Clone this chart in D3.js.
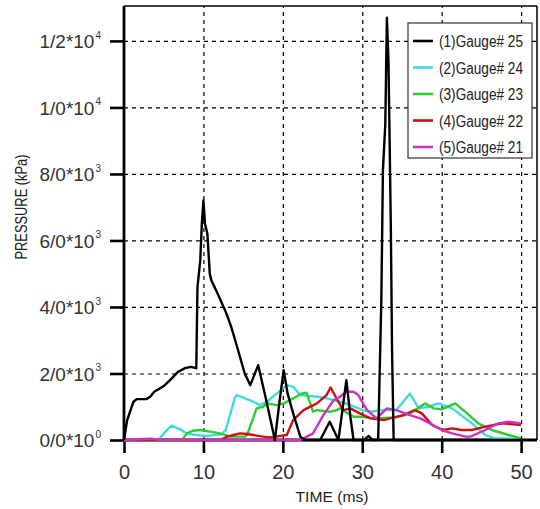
<!DOCTYPE html>
<html><head><meta charset="utf-8">
<script src="https://cdn.jsdelivr.net/npm/d3@7"></script>
<style>
body{margin:0;background:#fff;}
svg{display:block;}
</style></head>
<body><svg id="c" width="540" height="509"></svg>
<script>
const seriesNames = ["(1)Gauge# 25","(2)Gauge# 24","(3)Gauge# 23","(4)Gauge# 22","(5)Gauge# 21"];
const seriesColors = ["#000000","#3ddcdc","#2ecc2e","#cc1010","#cc33c4"];

const g25_t = [0,0.4,0.9,1.2,1.6,2.8,3.3,3.8,4.5,5.0,5.8,6.8,7.7,8.4,9.1,9.25,9.6,9.8,10.0,10.2,10.5,10.8,11.0,11.8,12.9,13.5,14.0,15.2,15.9,16.9,17.9,19.0,19.5,20.1,20.6,21.3,22.2,22.8,24.7,25.9,27.0,27.5,28.0,28.5,28.9,30.2,30.8,31.3,32.0,32.4,32.6,32.9,33.1,33.3,33.45,33.6,33.75,33.95,50];
const g25_v = [0,600,950,1150,1230,1230,1300,1450,1550,1620,1800,2050,2160,2200,2160,4600,5400,6500,7200,6500,6200,5000,4800,4400,3800,3400,3000,2000,1650,2250,1200,0,1000,2100,1400,800,100,0,0,550,0,900,1800,700,0,0,120,0,0,4200,8100,9500,12700,11400,8900,6300,2700,0,0];

const g24_t = [0,4.3,5.2,6.0,7.0,7.9,9.0,10.5,12.3,12.8,14.0,14.2,16.3,17.1,18.0,19.0,20.5,21.3,22.2,24.3,25.5,27.2,28.5,30.1,31.0,32.7,34.3,36.0,37.1,38.3,39.6,41.3,43.8,45.5,46.7,48.4,50];
const g24_v = [0,0,250,430,330,200,150,120,180,300,1300,1350,1150,1050,1150,1350,1650,1600,1350,1300,1250,1150,1050,900,850,900,900,1400,950,1000,1100,950,500,150,50,50,0];

const g23_t = [0,7.3,7.9,8.7,9.6,10.8,12.1,13.4,15.2,15.5,16.7,17.5,18.0,19.2,20.1,21.3,22.4,23.0,23.8,24.3,25.9,26.8,27.2,28.5,28.9,29.7,31.8,34.3,36.0,37.9,39.0,40.0,41.7,43.2,44.6,46.3,48.4,50];
const g23_v = [0,0,200,280,300,250,200,100,100,150,950,1000,1100,1050,1100,1250,1400,1420,850,900,850,900,950,750,700,700,650,680,800,1100,950,920,1100,800,500,300,150,50];

const g22_t = [0,12.1,13.0,13.8,14.6,15.5,16.3,17.5,18.4,20.5,21.3,22.6,24.3,25.5,26.0,27.0,27.6,28.5,29.7,31.0,32.7,33.5,35.2,36.6,37.5,38.8,40.2,41.3,42.5,43.8,45.5,47.6,50];
const g22_v = [0,0,100,150,200,180,150,100,80,150,600,900,1100,1350,1580,1150,900,950,800,650,600,650,750,900,800,450,300,350,300,300,400,500,450];

const g21_t = [0,2.5,3.5,4.5,22.2,23.8,25.1,26.4,27.2,28.0,28.9,29.5,30.6,31.8,33.1,34.3,36.0,37.3,38.5,40.0,41.3,43.0,43.6,45.5,47.1,48.4,50];
const g21_v = [0,30,40,0,0,200,750,1200,1300,1450,1450,1350,900,650,950,900,750,650,500,300,200,100,100,300,500,550,500];

const xTicks = [0,10,20,30,40,50];
const yTicks = [0,2000,4000,6000,8000,10000,12000];
const yTickMant = ["0/0*10","2/0*10","4/0*10","6/0*10","8/0*10","1/0*10","1/2*10"];
const yTickExp = ["0","3","3","3","3","4","4"];
const xLabel = "TIME (ms)";
const yLabel = "PRESSURE (kPa)";

const svg = d3.select("#c");
const L=124, R=537, T=6, B=440;
const x = d3.scaleLinear().domain([0,52]).range([L,R]);
const y = d3.scaleLinear().domain([0,13050]).range([B,T]);
const font = "'Liberation Sans', Arial, sans-serif";

// grid
svg.append("g").attr("transform",`translate(0,${B})`)
  .call(d3.axisBottom(x).tickValues(xTicks.slice(1)).tickSize(-(B-T)).tickFormat(""))
  .call(g=>g.select(".domain").remove())
  .selectAll("line").attr("stroke","#000").attr("stroke-width",1.2).attr("stroke-dasharray","4,4");
svg.append("g").attr("transform",`translate(${L},0)`)
  .call(d3.axisLeft(y).tickValues(yTicks.slice(1)).tickSize(-(R-L)).tickFormat(""))
  .call(g=>g.select(".domain").remove())
  .selectAll("line").attr("stroke","#000").attr("stroke-width",1.2).attr("stroke-dasharray","4,4");

// frame
svg.append("line").attr("x1",L).attr("x2",R).attr("y1",T).attr("y2",T).attr("stroke","#000").attr("stroke-width",1.5);
svg.append("line").attr("x1",R).attr("x2",R).attr("y1",T).attr("y2",B).attr("stroke","#000").attr("stroke-width",1.5);

// axes
const ax = svg.append("g").attr("transform",`translate(0,${B})`)
  .call(d3.axisBottom(x).tickValues(xTicks).tickSize(13).tickSizeOuter(0).tickPadding(10));
ax.select(".domain").attr("stroke","#000").attr("stroke-width",2.8).attr("d",`M${L},0H${R}`);
ax.selectAll(".tick line").attr("stroke","#000").attr("stroke-width",2.6);
ax.selectAll("text").attr("font-family",font).attr("font-size",20).attr("fill","#333").attr("dy",null).attr("y",null)
  .attr("transform","translate(0,39)");

const ay = svg.append("g").attr("transform",`translate(${L},0)`)
  .call(d3.axisLeft(y).tickValues(yTicks).tickSize(14).tickSizeOuter(0).tickPadding(0).tickFormat((d,i)=>yTickMant[i]));
ay.select(".domain").attr("stroke","#000").attr("stroke-width",2.8).attr("d",`M0,${B+1}V${T}`);
ay.selectAll(".tick line").attr("stroke","#000").attr("stroke-width",2.6);
ay.selectAll("text").attr("font-family",font).attr("font-size",19).attr("fill","#333")
  .attr("x",-23).attr("dy","0.35em")
  .each(function(d,i){
    d3.select(this).append("tspan").attr("font-size",10).attr("dy","-0.95em").attr("dx",1).text(yTickExp[i]);
  });

// series (drawn over axes)
const series = [
  {t:g24_t,v:g24_v,c:seriesColors[1]},
  {t:g23_t,v:g23_v,c:seriesColors[2]},
  {t:g22_t,v:g22_v,c:seriesColors[3]},
  {t:g21_t,v:g21_v,c:seriesColors[4]},
  {t:g25_t,v:g25_v,c:seriesColors[0]}
];
const line = d3.line().x(d=>x(d[0])).y(d=>y(d[1]));
series.forEach(s=>{
  svg.append("path").datum(s.t.map((t,i)=>[t,s.v[i]]))
    .attr("d",line).attr("fill","none").attr("stroke",s.c)
    .attr("stroke-width",2.4).attr("stroke-linejoin","round");
});

// labels
svg.append("text").attr("x",332).attr("y",502).attr("text-anchor","middle")
  .attr("font-family",font).attr("font-size",15).attr("fill","#222")
  .attr("textLength",73).attr("lengthAdjust","spacingAndGlyphs").text(xLabel);
svg.append("text").attr("transform","translate(27,207) rotate(-90)").attr("text-anchor","middle")
  .attr("font-family",font).attr("font-size",16).attr("fill","#222")
  .attr("textLength",105).attr("lengthAdjust","spacingAndGlyphs").text(yLabel);

// legend
const lg = svg.append("g");
lg.append("rect").attr("x",408).attr("y",23).attr("width",124).attr("height",135)
  .attr("fill","#fff").attr("stroke","#333").attr("stroke-width",1.2);
const rowY = d3.scalePoint().domain(seriesNames).range([41,147]);
seriesNames.forEach((n,i)=>{
  lg.append("line").attr("x1",413).attr("x2",433).attr("y1",rowY(n)).attr("y2",rowY(n))
    .attr("stroke",seriesColors[i]).attr("stroke-width",2.6);
  lg.append("text").attr("x",439).attr("y",rowY(n)+6).attr("font-family",font).attr("font-size",16)
    .attr("fill","#222").attr("textLength",84).attr("lengthAdjust","spacingAndGlyphs").text(n);
});
</script></body></html>
